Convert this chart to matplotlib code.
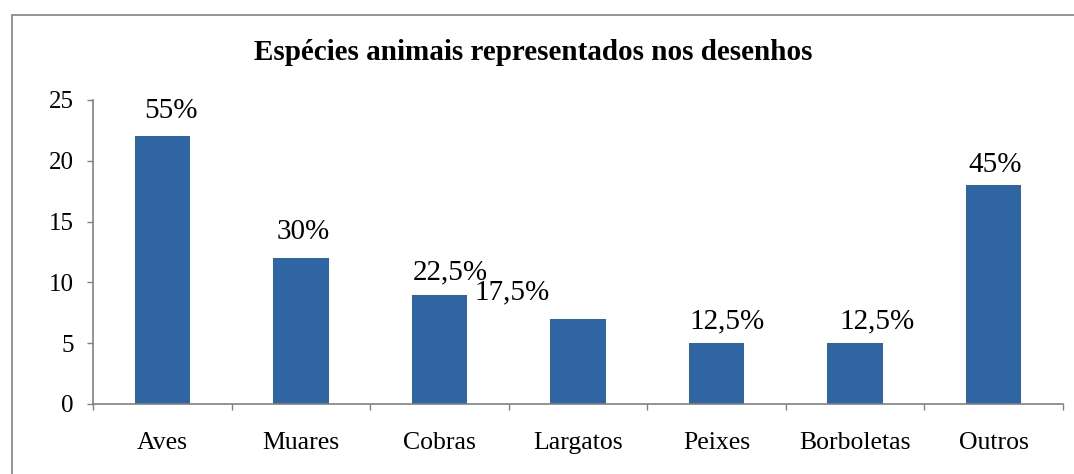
import matplotlib
matplotlib.use("Agg")
import matplotlib.pyplot as plt
from matplotlib.patches import Rectangle
import numpy as np

# dados: número de desenhos por espécie e percentual correspondente
especies = ["Aves", "Muares", "Cobras", "Largatos", "Peixes", "Borboletas", "Outros"]
quantidades = [22, 12, 9, 7, 5, 5, 18]
percentuais = ["55%", "30%", "22,5%", "17,5%", "12,5%", "12,5%", "45%"]

# deslocamento dos rótulos (pixels) em relação ao topo de cada barra
desloc_x = [9, 2, 11, -66, 10, 22, 1]
desloc_y = [25, 26, 22, 27, 22, 22, 20]

plt.rcParams["font.family"] = ["Liberation Serif", "DejaVu Serif"]

fig = plt.figure(figsize=(10.74, 4.74), dpi=100)

# moldura externa (a borda direita fica fora da área visível)
fig.patches.append(Rectangle((12 / 1074, -0.1), 1.2, 1.1 - 15 / 474,
                             transform=fig.transFigure, fill=False,
                             edgecolor="#8c8c8c", linewidth=1.3))

ax = fig.add_axes([93 / 1074, 1 - 404 / 474, (1063 - 93) / 1074, (404 - 100) / 474])

x = np.arange(len(especies))
barras = ax.bar(x, quantidades, width=0.40, color="#2F65A2")

ax.set_xlim(-0.5, len(especies) - 0.5)
ax.set_ylim(0, 25)
ax.set_yticks([0, 5, 10, 15, 20, 25])

# rótulos no centro, marcas nas divisões entre categorias
ax.set_xticks(x)
ax.set_xticklabels(especies)
ax.set_xticks(np.arange(-0.5, len(especies)), minor=True)
ax.tick_params(axis="x", which="major", length=0, pad=20, labelsize=18.5)
ax.tick_params(axis="x", which="minor", length=4, width=1, color="#808080")
ax.tick_params(axis="y", length=4, width=1, color="#808080", pad=10, labelsize=18)

for lado in ["top", "right"]:
    ax.spines[lado].set_visible(False)
for lado in ["left", "bottom"]:
    ax.spines[lado].set_color("#808080")
    ax.spines[lado].set_linewidth(1.2)

for i, (q, p) in enumerate(zip(quantidades, percentuais)):
    ax.annotate(p, (x[i], q), xytext=(desloc_x[i] * 0.72, desloc_y[i] * 0.72),
                textcoords="offset points", ha="center", va="center", fontsize=21)

fig.text(533 / 1074, 1 - 52 / 474, "Espécies animais representados nos desenhos",
         ha="center", va="center", fontsize=21, fontweight="bold")

fig.savefig("out.png", dpi=100)
